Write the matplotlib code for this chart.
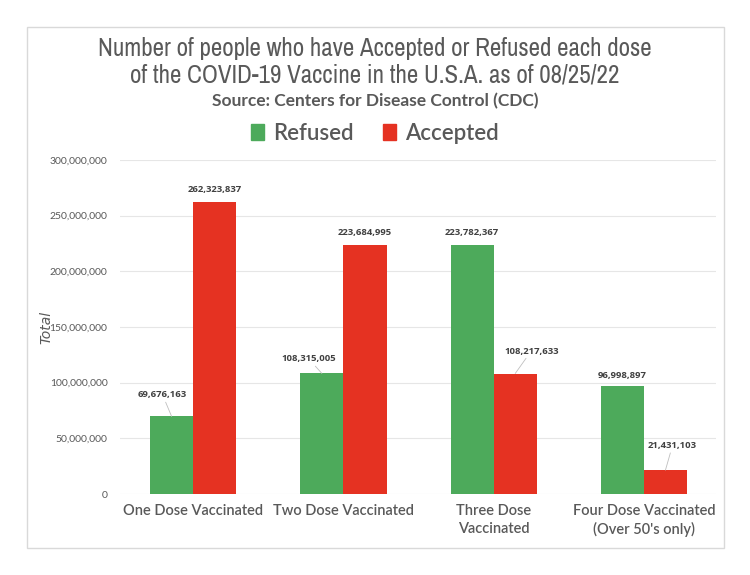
import matplotlib
matplotlib.use("Agg")
import matplotlib.pyplot as plt
from matplotlib.patches import Rectangle, Patch
from matplotlib.ticker import FuncFormatter
import numpy as np

categories = ["One Dose Vaccinated", "Two Dose Vaccinated", "Three Dose\nVaccinated",
              "Four Dose Vaccinated\n(Over 50's only)"]
refused = [69676163, 108315005, 223782367, 96998897]
accepted = [262323837, 223684995, 108217633, 21431103]
series_names = ["Refused", "Accepted"]
yticks = [0, 50e6, 100e6, 150e6, 200e6, 250e6, 300e6]

GREEN = "#4DAA5B"
RED = "#E53222"
GRAY = "#595959"

W, H = 750, 575
fig = plt.figure(figsize=(7.5, 5.75), dpi=100)
fig.patch.set_facecolor("white")

def fx(px):
    return px / W

def fy(py):
    return 1 - py / H

fig.patches.append(Rectangle((fx(27), fy(548)), fx(724) - fx(27), fy(27) - fy(548),
                             transform=fig.transFigure, fill=False,
                             edgecolor="#d9d9d9", linewidth=1.0))

ax = fig.add_axes([fx(120), fy(494), fx(716) - fx(120), fy(160) - fy(494)])
x = np.arange(len(categories))
bw = 0.287
b1 = ax.bar(x - bw / 2, refused, bw, color=GREEN, label=series_names[0], zorder=3)
b2 = ax.bar(x + bw / 2, accepted, bw, color=RED, label=series_names[1], zorder=3)
ax.set_xlim(-0.487, 3.48)
ax.set_ylim(0, 300e6)
ax.set_yticks(yticks)
ax.yaxis.set_major_formatter(FuncFormatter(lambda v, p: f"{int(v):,}"))
ax.grid(axis="y", color="#e6e6e6", linewidth=0.8, zorder=0)
for s in ax.spines.values():
    s.set_visible(False)
ax.tick_params(axis="y", length=0, labelsize=7.5, labelcolor=GRAY, pad=9)
for t in ax.get_yticklabels():
    t.set_fontfamily("Lato")
ax.tick_params(axis="x", length=0)
ax.set_xticks(x)
ax.set_xticklabels(categories, fontsize=10.5, color=GRAY, fontfamily="Lato",
                   fontweight="semibold", linespacing=1.35)
ax.tick_params(axis="x", pad=7)
ax.set_ylabel("Total", fontsize=10, color=GRAY, style="italic")
axw = fx(716) - fx(120)
ax.yaxis.set_label_coords((fx(53) - fx(120)) / axw, 0.5)

ref_off = [(-9, 17, True), (-13, 10, True), (0, 8, False), (0, 6, False)]
acc_off = [(0, 8, False), (0, 8, False), (16, 18, True), (7, 20, True)]

def label(bars, vals, offs):
    for b, v, (dx, dy, lead) in zip(bars, vals, offs):
        cx = b.get_x() + b.get_width() / 2
        ax.annotate(f"{v:,}", xy=(cx, v), xytext=(dx, dy), textcoords="offset pixels",
                    ha="center", va="bottom", fontsize=6.8, fontweight="bold",
                    color="#404040", fontfamily="Open Sans", zorder=5,
                    arrowprops=(dict(arrowstyle="-", color="#bfbfbf", lw=0.6,
                                     shrinkA=0, shrinkB=0) if lead else None))

label(b1, refused, ref_off)
label(b2, accepted, acc_off)

tfam = ["Archivo Narrow", "DejaVu Sans"]
fig.text(0.5, fy(48), "Number of people who have Accepted or Refused each dose",
         ha="center", va="center", fontsize=18, color=GRAY, fontfamily=tfam)
fig.text(0.5, fy(75), "of the COVID-19 Vaccine in the U.S.A. as of 08/25/22",
         ha="center", va="center", fontsize=18, color=GRAY, fontfamily=tfam)
fig.text(0.5, fy(101), "Source: Centers for Disease Control (CDC)",
         ha="center", va="center", fontsize=12.5, color=GRAY, fontweight="bold",
         fontfamily="Lato")

handles = [Patch(color=GREEN), Patch(color=RED)]
fig.legend(handles, series_names, loc="center", bbox_to_anchor=(0.5, fy(133)),
           ncol=2, frameon=False, prop={"family": "Lato", "size": 16, "weight": "semibold"},
           handlelength=0.6, handleheight=0.75, handletextpad=0.4, columnspacing=1.3,
           labelcolor=GRAY)

fig.savefig("out.png", dpi=100, facecolor="white")
